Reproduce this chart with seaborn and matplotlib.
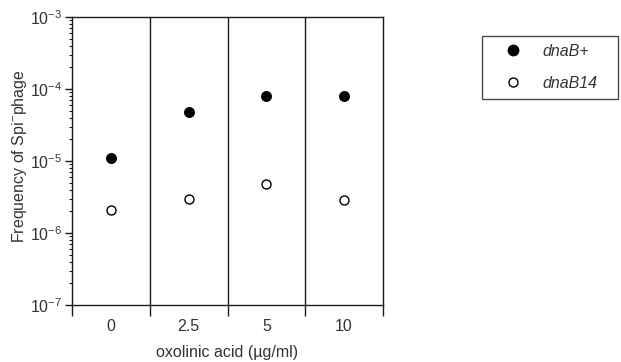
import matplotlib
matplotlib.use("Agg")
import matplotlib.pyplot as plt
from matplotlib.lines import Line2D
from matplotlib.ticker import FixedLocator, NullFormatter, FixedFormatter, LogLocator
import seaborn as sns
import pandas as pd
import numpy as np

# ---- data ----
conc_labels = ["0", "2.5", "5", "10"]
dnaB_plus = [1.1e-5, 4.8e-5, 8.0e-5, 8.0e-5]
dnaB14 = [2.1e-6, 3.0e-6, 4.8e-6, 2.9e-6]
series_names = ["dnaB+", "dnaB14"]

df = pd.DataFrame({
    "conc": conc_labels * 2,
    "freq": dnaB_plus + dnaB14,
    "strain": [series_names[0]] * 4 + [series_names[1]] * 4,
})

sns.set_theme(style="white")
plt.rcParams["font.family"] = ["Liberation Sans", "DejaVu Sans"]
plt.rcParams["mathtext.default"] = "regular"
FS = 11.5
plt.rcParams["font.size"] = FS

text_c = "#333333"
line_c = "#1a1a1a"

fig = plt.figure(figsize=(6.21, 3.62), dpi=100)
ax = fig.add_axes([72 / 621, 1 - 305 / 362, (383 - 72) / 621, (305 - 17) / 362])
ax.set_yscale("log")

sns.stripplot(data=df[df.strain == series_names[0]], x="conc", y="freq", order=conc_labels,
              jitter=False, color="black", size=7.9, linewidth=0, ax=ax)
sns.stripplot(data=df[df.strain == series_names[1]], x="conc", y="freq", order=conc_labels,
              jitter=False, color="white", edgecolor="black", linewidth=1.0, size=6.5, ax=ax)

ax.set_ylim(1e-7, 1e-3)
ax.set_xlim(-0.5, len(conc_labels) - 0.5)

# column divider lines
for b in np.arange(0.5, len(conc_labels) - 0.5, 1.0):
    ax.axvline(b, color=line_c, lw=1.0, zorder=1)

# x ticks: major at boundaries (no labels), minor at centers (labels)
bounds = np.arange(-0.5, len(conc_labels), 1.0)
ax.xaxis.set_major_locator(FixedLocator(bounds))
ax.xaxis.set_major_formatter(NullFormatter())
ax.xaxis.set_minor_locator(FixedLocator(np.arange(len(conc_labels))))
ax.xaxis.set_minor_formatter(FixedFormatter(conc_labels))
ax.tick_params(axis="x", which="major", direction="out", length=8, width=1.0, color=line_c, bottom=True)
ax.tick_params(axis="x", which="minor", length=0, pad=10, labelsize=FS, labelcolor=text_c, bottom=True)

ax.yaxis.set_major_locator(LogLocator(base=10, numticks=10))
ax.yaxis.set_minor_locator(LogLocator(base=10, subs=np.arange(2, 10), numticks=10))
ax.tick_params(axis="y", which="major", direction="out", length=5, width=1.0, color=line_c,
               left=True, labelsize=FS, labelcolor=text_c, pad=2)
ax.tick_params(axis="y", which="minor", direction="out", length=2.5, width=0.8, color=line_c, left=True)

for s in ax.spines.values():
    s.set_visible(True)
    s.set_color(line_c)
    s.set_linewidth(1.0)

ax.set_xlabel("oxolinic acid (\u00b5g/ml)", fontsize=FS, color=text_c, labelpad=8)
ax.set_ylabel("Frequency of Spi$^{-}$phage", fontsize=FS, color=text_c)
ax.yaxis.set_label_coords((29 - 72) / 311, (305 - 156) / 288)
ax.grid(False)

handles = [
    Line2D([], [], marker="o", linestyle="none", markerfacecolor="black", markeredgecolor="black",
           markersize=7.5),
    Line2D([], [], marker="o", linestyle="none", markerfacecolor="white", markeredgecolor="black",
           markeredgewidth=1.0, markersize=6.5),
]
leg = fig.legend(handles, series_names, loc="upper left",
                 bbox_to_anchor=(482 / 621, 1 - 36 / 362 - 0.01, (618 - 482) / 621, 0.01),
                 mode="expand", borderaxespad=0, fancybox=False, frameon=True,
                 edgecolor=line_c, borderpad=0.5, handlelength=2.9, handletextpad=0.4,
                 labelspacing=1.05, prop={"style": "italic", "size": FS})
leg.get_frame().set_linewidth(1.0)
for t in leg.get_texts():
    t.set_color(text_c)

fig.savefig("out.png", dpi=100, facecolor="white")
